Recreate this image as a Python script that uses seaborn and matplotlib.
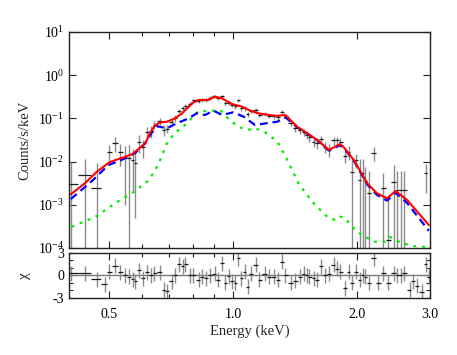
import numpy as np
import pandas as pd
import matplotlib
matplotlib.use("Agg")
import matplotlib.pyplot as plt
import seaborn as sns
from matplotlib.ticker import FixedLocator, FixedFormatter, NullFormatter

# ---------------- data ----------------
energy = [0.404, 0.438, 0.467, 0.489, 0.501, 0.517, 0.532, 0.547, 0.560, 0.571,
          0.578, 0.591, 0.606, 0.619, 0.633, 0.644, 0.663, 0.678, 0.692, 0.709,
          0.721, 0.741, 0.755, 0.765, 0.787, 0.801, 0.824, 0.840, 0.859, 0.880,
          0.901, 0.918, 0.939, 0.957, 0.975, 0.993, 1.012, 1.027, 1.046, 1.066,
          1.084, 1.104, 1.136, 1.157, 1.192, 1.219, 1.253, 1.285, 1.313, 1.338,
          1.381, 1.415, 1.455, 1.482, 1.510, 1.530, 1.567, 1.597, 1.636, 1.667,
          1.704, 1.753, 1.786, 1.820, 1.871, 1.906, 1.943, 1.990, 2.024, 2.061,
          2.092, 2.131, 2.192, 2.246, 2.310, 2.376, 2.451, 2.498, 2.545, 2.592,
          2.676, 2.726, 2.793, 2.861, 2.926, 2.980]
counts = [3.1e-3, 4.9e-3, 2.5e-3, np.nan, 0.017, 0.0265, 0.017, 0.012, 0.012, 0.011,
          0.0095, 0.029, 0.022, 0.048, 0.052, 0.072, 0.086, 0.054, 0.058, 0.084,
          0.100, 0.151, 0.172, 0.19, 0.22, 0.26, 0.255, 0.27, 0.27, 0.30,
          0.325, 0.295, 0.325, 0.225, 0.225, 0.205, 0.19, 0.26, 0.17, 0.17,
          0.125, 0.148, 0.155, 0.12, 0.125, 0.115, 0.112, 0.106, 0.142, 0.115,
          0.078, 0.060, 0.053, 0.049, 0.042, 0.037, 0.029, 0.027, 0.033, 0.022,
          0.019, 0.031, 0.031, 0.029, 0.0135, 0.017, 0.0058, 0.011, 0.0037, 0.0055,
          0.0036, 0.0019, 0.0162, np.nan, 0.0024, 0.00015, 0.0034, 0.0022, 0.0022, 0.0022,
          np.nan, np.nan, np.nan, np.nan, 0.0054, np.nan]
count_err = [6.9e-3, 6.4e-3, 6.6e-3, 7e-3, 0.0075, 0.01, 0.009, 0.011, 0.012, 0.009,
             0.009, 0.013, 0.01, 0.015, 0.016, 0.016, 0.016, 0.015, 0.012, 0.014,
             0.018, 0.016, 0.02, 0.02, 0.025, 0.025, 0.025, 0.026, 0.027, 0.03,
             0.03, 0.03, 0.03, 0.026, 0.025, 0.024, 0.022, 0.025, 0.02, 0.02,
             0.017, 0.017, 0.016, 0.015, 0.014, 0.014, 0.014, 0.014, 0.014, 0.014,
             0.012, 0.011, 0.01, 0.009, 0.008, 0.008, 0.007, 0.007, 0.006, 0.006,
             0.006, 0.007, 0.007, 0.007, 0.004, 0.006, 0.006, 0.004, 0.008, 0.006,
             0.004, 0.004, 0.006, 0.003, 0.003, 0.0013, 0.005, 0.004, 0.004, 0.004,
             0.003, 0.003, 0.003, 0.003, 0.0035, 0.003]
chi = [0.3, 0.3, -0.5, -1.2, 0.5, 1.3, 0.4, 0.05, -0.2, -0.5,
       -0.8, 0.7, -0.4, 0.4, 0.0, 0.3, 0.4, -1.9, -2.1, -0.8,
       0.0, 1.5, 1.2, 1.5, 0.0, 0.0, -0.6, -0.2, -0.4, 0.0,
       0.2, -0.6, 1.6, -1.0, -0.1, -0.8, -1.0, 2.3, -0.4, 0.5,
       -1.5, 0.2, 1.4, -0.6, 0.2, -0.2, -0.2, -0.6, 1.8, 0.0,
       -1.0, -0.7, -0.2, 0.2, 0.0, -0.2, -0.4, -0.6, 1.2, 0.0,
       0.2, 1.4, 0.9, 0.5, -1.7, 0.5, -1.0, 0.5, -0.6, 0.0,
       -0.2, -1.0, 2.3, -1.0, 0.3, -1.0, 0.3, 0.0, 0.0, 0.3,
       -1.9, -0.8, -1.4, -2.2, 1.5, -0.2]
chi_err = [1.0] * len(chi)

total_E = [0.404, 0.438, 0.467, 0.50, 0.52, 0.542, 0.57, 0.595, 0.612, 0.628,
           0.647, 0.665, 0.691, 0.72, 0.752, 0.795, 0.824, 0.87, 0.902, 0.94,
           0.993, 1.05, 1.1, 1.15, 1.27, 1.338, 1.43, 1.6, 1.705, 1.816,
           1.85, 1.96, 2.116, 2.23, 2.36, 2.475, 2.64, 2.98]
total_V = [1.75e-3, 3.2e-3, 5.8e-3, 9.5e-3, 1.1e-2, 1.25e-2, 1.5e-2, 2.1e-2, 2.6e-2, 4.5e-2,
           7.0e-2, 8.0e-2, 8.4e-2, 9.8e-2, 0.131, 0.223, 0.267, 0.267, 0.318, 0.29,
           0.215, 0.187, 0.151, 0.131, 0.114, 0.12, 0.064, 0.0316, 0.0186, 0.0255,
           0.022, 0.0109, 3.1e-3, 1.85e-3, 1.41e-3, 2.09e-3, 1.29e-3, 3.4e-4]

comp1_E = [0.404, 0.454, 0.498, 0.535, 0.58, 0.612, 0.635, 0.653, 0.691, 0.73,
           0.78, 0.816, 0.855, 0.896, 0.94, 1.0, 1.06, 1.13, 1.2, 1.28,
           1.34, 1.43, 1.6, 1.705, 1.816, 1.85, 1.96, 2.116, 2.23, 2.36,
           2.475, 2.64, 2.98]
comp1_V = [1.36e-3, 3.5e-3, 8.3e-3, 1.08e-2, 1.6e-2, 2.7e-2, 4.7e-2, 0.066, 0.059, 0.077,
           0.1, 0.131, 0.12, 0.151, 0.12, 0.138, 0.11, 0.070, 0.077, 0.084,
           0.105, 0.062, 0.031, 0.018, 0.024, 0.021, 0.0105, 2.9e-3, 1.7e-3, 1.25e-3,
           1.9e-3, 1.1e-3, 2.5e-4]

comp2_E = [0.406, 0.464, 0.517, 0.568, 0.625, 0.647, 0.66, 0.691, 0.72, 0.764,
           0.824, 0.88, 0.93, 0.98, 1.03, 1.08, 1.13, 1.19, 1.28, 1.34,
           1.39, 1.44, 1.51, 1.58, 1.69, 1.77, 1.82, 1.87, 1.94, 2.05,
           2.2, 2.34, 2.4, 2.56, 2.76, 2.95]
comp2_V = [3.1e-4, 5.3e-4, 1.08e-3, 1.85e-3, 3.7e-3, 6.4e-3, 9.1e-3, 0.0265, 0.045, 0.07,
           0.148, 0.148, 0.156, 0.092, 0.064, 0.054, 0.059, 0.049, 0.029, 0.013,
           6.4e-3, 3.1e-3, 1.69e-3, 9.9e-4, 5.3e-4, 4.4e-4, 5.3e-4, 4.9e-4, 3.1e-4, 2.0e-4,
           1.4e-4, 1.4e-4, 1.8e-4, 1.29e-4, 1.1e-4, 1.05e-4]

x_ticks = [0.5, 1.0, 2.0, 3.0]
x_ticklabels = ["0.5", "1.0", "2.0", "3.0"]
x_minor = [0.6, 0.7, 0.8, 0.9]

# ---------------- style ----------------
sns.set_theme(style="ticks")
plt.rcParams["font.family"] = ["Liberation Serif", "DejaVu Serif"]
plt.rcParams["mathtext.fontset"] = "custom"
plt.rcParams["mathtext.rm"] = "Liberation Serif"
plt.rcParams["mathtext.it"] = "Liberation Serif:italic"
plt.rcParams["axes.linewidth"] = 1.0

fig = plt.figure(figsize=(4.57, 3.55), dpi=100)
ax1 = fig.add_axes([0.151, 0.3014, 0.790, 0.6085])
ax2 = fig.add_axes([0.151, 0.1606, 0.790, 0.1268], sharex=ax1)

E = np.array(energy)
edges = np.sqrt(E[:-1] * E[1:])
lo_edges = np.concatenate([[E[0] ** 2 / edges[0]], edges])
hi_edges = np.concatenate([edges, [E[-1] ** 2 / edges[-1]]])
xerr = [E - lo_edges, hi_edges - E]

# data in the top panel
ax1.errorbar(E, counts, yerr=count_err, fmt="none", ecolor="#8a8a8a", elinewidth=1.0, zorder=2)
ax1.errorbar(E, counts, xerr=xerr, fmt="none", ecolor="#1a1a1a", elinewidth=0.9, zorder=3)

# models
sns.lineplot(x=comp2_E, y=comp2_V, ax=ax1, color="#00ee00", linewidth=1.6,
             linestyle=(0, (1.3, 2.6)), sort=False, estimator=None, zorder=4)
sns.lineplot(x=comp1_E, y=comp1_V, ax=ax1, color="#0000ff", linewidth=1.6,
             linestyle=(0, (3.5, 2.2)), sort=False, estimator=None, zorder=5)
sns.lineplot(x=total_E, y=total_V, ax=ax1, color="#ff0000", linewidth=1.5,
             sort=False, estimator=None, zorder=6)

ax1.set_xscale("log")
ax1.set_yscale("log")
ax1.set_xlim(0.4, 3.0)
ax1.set_ylim(1e-4, 10)
ax1.set_ylabel("Counts/s/keV", fontsize=10.5)
ax1.yaxis.set_label_coords(-0.105, 0.5)
ax1.set_xlabel("")

# residual panel
ax2.axhline(0, color="#777777", lw=1.0, zorder=1)
ax2.errorbar(E, chi, yerr=chi_err, fmt="none", ecolor="#8a8a8a", elinewidth=1.0, zorder=2)
ax2.errorbar(E, chi, xerr=xerr, fmt="none", ecolor="#1a1a1a", elinewidth=0.9, zorder=3)
ax2.set_ylim(-3, 3)
ax2.set_yticks([-3, 0, 3])
ax2.set_yticklabels(["-3", "0", "3"])
ax2.yaxis.set_minor_locator(FixedLocator([-2, -1, 1, 2]))
ax2.set_ylabel("χ", fontsize=11, rotation=90)
ax2.yaxis.set_label_coords(-0.105, 0.5)
ax2.set_xlabel("Energy (keV)", fontsize=10.5, labelpad=3)

for ax in (ax1, ax2):
    ax.xaxis.set_major_locator(FixedLocator(x_ticks))
    ax.xaxis.set_minor_locator(FixedLocator(x_minor))
    ax.xaxis.set_major_formatter(FixedFormatter(x_ticklabels))
    ax.xaxis.set_minor_formatter(NullFormatter())
    ax.tick_params(which="both", direction="in", top=True, right=True,
                   labelsize=10, width=0.8, colors="#222222", labelcolor="black")
    ax.tick_params(which="major", length=5)
    ax.tick_params(which="minor", length=3)
    for s in ax.spines.values():
        s.set_color("#222222")
ax1.yaxis.set_minor_locator(FixedLocator([]))
ax1.tick_params(axis="x", labelbottom=False)
ax2.tick_params(axis="x", pad=7)

fig.savefig("out.png", dpi=100)
